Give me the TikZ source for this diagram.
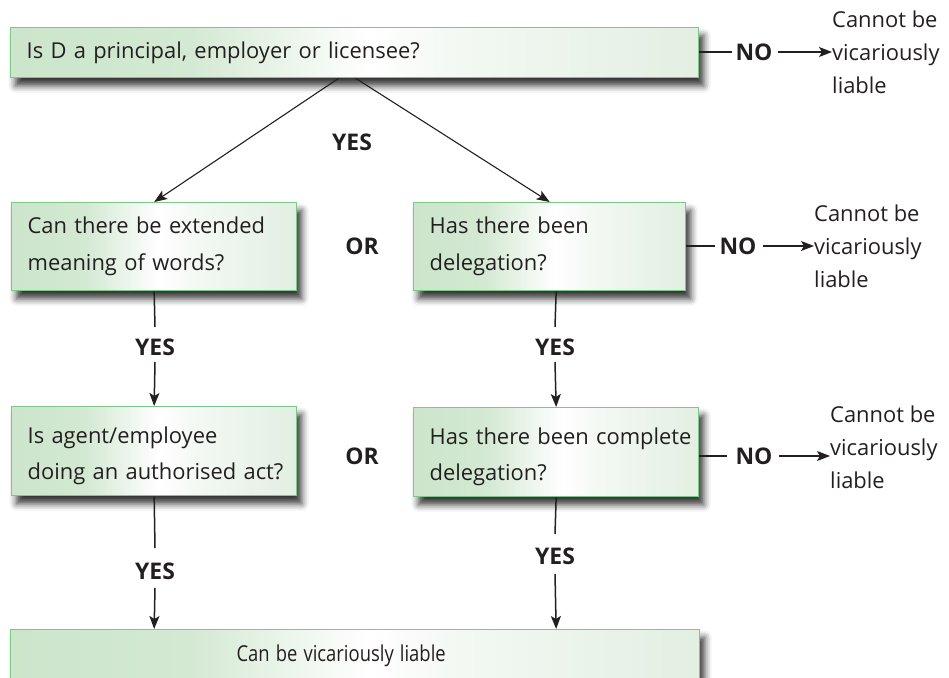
\documentclass[tikz,border=0pt]{standalone}
\usepackage{fontspec}
\usepackage{graphicx}
\setmainfont{Open Sans}
\usetikzlibrary{arrows.meta,shadows.blur}

\definecolor{boxgreen}{HTML}{CCE5CB}
\definecolor{boxpale}{HTML}{E3EFE3}
\definecolor{boxline}{HTML}{7BC98A}
\definecolor{ink}{HTML}{231F20}

% left-to-right fill of the question boxes: green, white, pale green
\pgfdeclarehorizontalshading{boxfade}{100bp}{%
  color(0bp)=(boxgreen); color(25bp)=(boxgreen); color(38bp)=(boxgreen!85!white);
  color(51bp)=(white); color(58bp)=(boxpale!45!white);
  color(75bp)=(boxpale); color(100bp)=(boxpale)}

\newcommand{\lowerfirst}{\rule{0pt}{26bp}}

\tikzset{
  qbox/.style={draw=boxline, line width=1.3bp, shading=boxfade,
    blur shadow={shadow xshift=5bp, shadow yshift=-8bp,
      shadow blur radius=7bp, shadow opacity=80},
    anchor=north west, align=left, inner xsep=16bp, inner ysep=0pt,
    font=\fontsize{22}{37}\selectfont, text=ink},
  word/.style={font=\fontsize{23}{26}\bfseries\selectfont, text=ink, inner sep=0pt},
  outcome/.style={anchor=west, align=left, inner sep=0pt,
    font=\fontsize{22}{33}\selectfont, text=ink},
  arr/.style={-{Stealth[length=13bp,width=10bp,inset=3bp]}, line width=1.1bp, draw=ink},
  varr/.style={arr, line width=1.5bp},
  vline/.style={line width=1.5bp, draw=ink},
  hline/.style={line width=1.1bp, draw=ink},
}

\begin{document}
\begin{tikzpicture}[x=1bp, y=-1bp]
\clip (0,0) rectangle (949,678);

% question boxes
\node[qbox, text width=656bp, minimum height=50bp] (q1) at (10,27)
  {Is D a principal, employer or licensee?};
\node[qbox, text width=253bp, minimum height=88bp] (q2) at (11,202)
  {\mbox{Can there be extended}\\\mbox{meaning of words?}};
\node[qbox, text width=240bp, minimum height=88bp] (q3) at (413,202)
  {\mbox{Has there been}\\\mbox{delegation?}};
\node[qbox, text width=253bp, minimum height=89bp] (q4) at (11,406)
  {\lowerfirst\mbox{Is agent/employee}\\\mbox{doing an authorised act?}};
\node[qbox, text width=253bp, minimum height=89bp] (q5) at (413,407)
  {\lowerfirst\mbox{Has there been complete}\\\mbox{delegation?}};
\node[qbox, align=center, text width=657bp, minimum height=52bp] (res) at (10,629)
  {\scalebox{0.84}[1]{Can be vicariously liable}\hspace*{28bp}};

% labels between the boxes
\node[word] (yes1) at (352,142) {YES};
\node[word] (or1) at (362,246) {OR};
\node[word] (or2) at (362,456) {OR};
\node[word] (yes2) at (155,347) {YES};
\node[word] (yes3) at (555,347) {YES};
\node[word] (yes4) at (155,571) {YES};
\node[word] (yes5) at (555,556) {YES};

% refusals on the right
\node[word] (no1) at (754,52) {NO};
\node[word] (no2) at (738,246) {NO};
\node[word] (no3) at (754,456) {NO};
\node[outcome] (out1) at (832,52) {Cannot be\\vicariously\\liable};
\node[outcome] (out2) at (814,246) {Cannot be\\vicariously\\liable};
\node[outcome] (out3) at (830,447) {Cannot be\\vicariously\\liable};

% the two branches from the first question
\draw[arr] ([xshift=-16bp]q1.south) -- (q2.north);
\draw[arr] ([xshift=1bp]q1.south) -- (q3.north);

% left column
\draw[vline] (q2.south) -- ([yshift=20bp]yes2.center);
\draw[varr] ([yshift=-15bp]yes2.center) -- (q4.north);
\draw[vline] (q4.south) -- ([yshift=23bp]yes4.center);
\draw[varr] ([yshift=-17bp]yes4.center) -- (res.north -| q4.south);

% right column
\draw[vline] (q3.south -| q5.north) -- ([yshift=20bp]yes3.center);
\draw[varr] ([yshift=-15bp]yes3.center) -- (q5.north);
\draw[vline] (q5.south) -- ([yshift=22bp]yes5.center);
\draw[varr] ([yshift=-18bp]yes5.center) -- (res.north -| q5.south);

% NO exits
\draw[hline] (q1.east |- no1) -- ([xshift=-22bp]no1.center);
\draw[arr] ([xshift=24bp]no1.center) -- (out1.west);
\draw[hline] (q3.east |- no2) -- ([xshift=-23bp]no2.center);
\draw[arr] ([xshift=25bp]no2.center) -- (out2.west);
\draw[hline] (q5.east |- no3) -- ([xshift=-27bp]no3.center);
\draw[arr] ([xshift=25bp]no3.center) -- (out3.west |- no3);
\end{tikzpicture}
\end{document}
